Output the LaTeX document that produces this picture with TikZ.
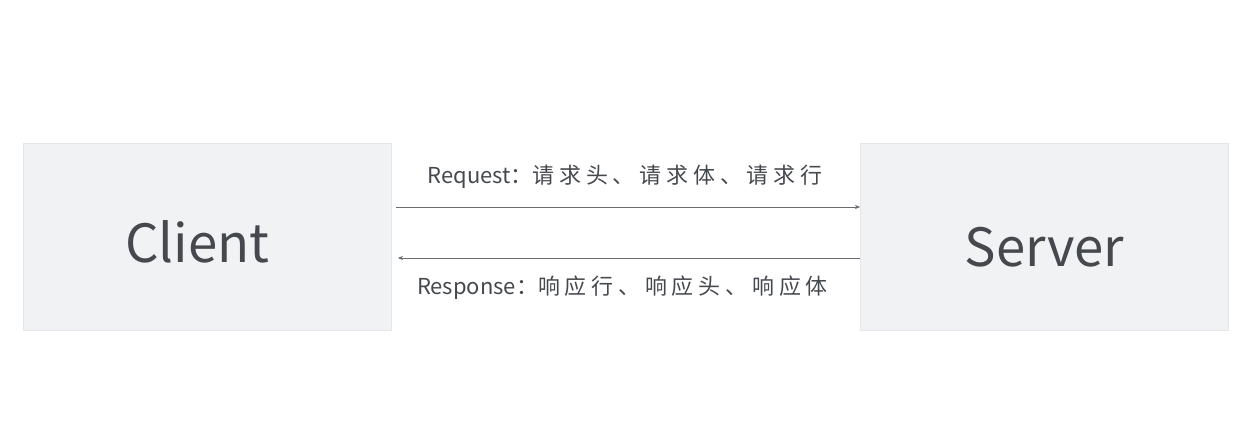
\documentclass[tikz,border=0pt]{standalone}
\usepackage{fontspec}
\setmainfont{Noto Sans CJK SC}
\newfontfamily\spacedcjk[LetterSpace=22]{Noto Sans CJK SC}
\usetikzlibrary{arrows.meta}

\definecolor{boxfill}{HTML}{F1F2F4}
\definecolor{boxline}{HTML}{E4E6E9}
\definecolor{inkgray}{HTML}{45484D}

\tikzset{
  peer/.style={draw=boxline, fill=boxfill, minimum width=7.36cm, minimum height=3.74cm},
  peertext/.style={text=inkgray, font=\fontsize{30}{34}\selectfont},
  msg/.style={draw=inkgray!80, line width=0.4pt, -{Stealth[length=3pt,width=2.4pt]}},
  msglabel/.style={text=inkgray, font=\fontsize{12.5}{15}\selectfont}
}

\begin{document}
\begin{tikzpicture}
    \useasboundingbox (0,0) rectangle (25.04,8.9);
    \node[peer] (client) at (4.15,4.17) {};
    \node[peer] (server) at (20.89,4.17) {};
    \node[peertext] (clienttext) at ([xshift=-0.2cm,yshift=-0.1cm]client.center) {Client};
    \node[peertext] (servertext) at ([yshift=-0.22cm]server.center) {Server};
    %request / response
    \coordinate (reqA) at ([xshift=0.08cm,yshift=0.59cm]client.east);
    \coordinate (reqB) at ([yshift=0.59cm]server.west);
    \coordinate (resA) at ([yshift=-0.43cm]server.west);
    \coordinate (resB) at ([xshift=0.12cm,yshift=-0.43cm]client.east);
    \draw[msg] (reqA) -- (reqB);
    \draw[msg] (resA) -- (resB);
    \node[msglabel] (reqtext) at (12.5,5.36) {Request：{\spacedcjk 请求头、请求体、请求行}};
    \node[msglabel] (restext) at (12.45,3.14) {Response：{\spacedcjk 响应行、响应头、响应体}};
\end{tikzpicture}
\end{document}
